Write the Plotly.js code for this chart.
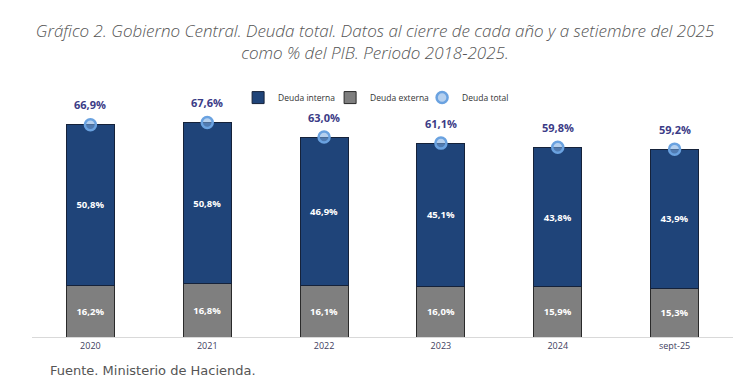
<!DOCTYPE html>
<html>
<head>
<meta charset="utf-8">
<script src="https://cdn.plot.ly/plotly-3.0.1.min.js"></script>
<style>html,body{margin:0;padding:0;background:#fff;}#chart{width:750px;height:392px;}</style>
</head>
<body>
<div id="chart"></div>
<script>
const categories = ["2020", "2021", "2022", "2023", "2024", "sept-25"];
const deudaInterna = [50.8, 50.8, 46.9, 45.1, 43.8, 43.9];
const deudaExterna = [16.2, 16.8, 16.1, 16.0, 15.9, 15.3];
const deudaTotal = [66.9, 67.6, 63.0, 61.1, 59.8, 59.2];

const xs = categories.map((c, i) => i);
const fmt = v => v.toFixed(1).replace('.', ',') + '%';
const numFont = {family: 'Open Sans, Liberation Sans, sans-serif', size: 9.5, color: '#ffffff', weight: 700};

const traces = [
  {
    type: 'bar', name: 'Deuda externa', x: xs, y: deudaExterna, width: 0.41,
    marker: {color: '#7f7f7f', line: {color: '#2a2a2a', width: 1}},
    text: deudaExterna.map(fmt), textposition: 'inside', insidetextanchor: 'middle',
    textfont: numFont, legendrank: 2, hoverinfo: 'skip'
  },
  {
    type: 'bar', name: 'Deuda interna', x: xs, y: deudaInterna, width: 0.41,
    marker: {color: '#1f4479', line: {color: '#15223a', width: 1}},
    text: deudaInterna.map(fmt), textposition: 'inside', insidetextanchor: 'middle',
    textfont: numFont, legendrank: 1, hoverinfo: 'skip'
  },
  {
    type: 'scatter', mode: 'markers', name: 'Deuda total', x: xs, y: deudaTotal,
    marker: {size: 11, color: 'rgba(120,170,225,0.55)', line: {color: '#6aa2e0', width: 2.5}},
    legendrank: 3, hoverinfo: 'skip'
  }
];

const annotations = deudaTotal.map((v, i) => ({
  x: xs[i], y: v, xref: 'x', yref: 'y', text: fmt(v), showarrow: false,
  yshift: 20, font: {family: 'Open Sans, Liberation Sans, sans-serif', size: 11, color: '#3b3b86', weight: 700}
}));
annotations.push({
  xref: 'paper', yref: 'paper', x: 0, y: 0, xanchor: 'left', yanchor: 'top',
  xshift: 16, yshift: -24, showarrow: false,
  text: 'Fuente. Ministerio de Hacienda.',
  font: {family: 'DejaVu Sans, sans-serif', size: 13, color: '#555555'}
});

const layout = {
  width: 750, height: 392,
  margin: {l: 32, r: 17, t: 99, b: 55},
  paper_bgcolor: '#ffffff', plot_bgcolor: '#ffffff',
  barmode: 'stack',
  showlegend: true,
  legend: {orientation: 'h', x: 0.294, xanchor: 'left', y: 0.945, yanchor: 'bottom',
    font: {family: 'Open Sans, Liberation Sans, sans-serif', size: 8.5, color: '#333333'},
    itemwidth: 30, entrywidth: 47, entrywidthmode: 'pixels', traceorder: 'normal'},
  title: {
    text: 'Gráfico 2. Gobierno Central. Deuda total. Datos al cierre de cada año y a setiembre del 2025<br>como % del PIB. Periodo 2018-2025.',
    x: 0.5, xanchor: 'center', y: 0.905, yanchor: 'top',
    font: {family: 'Open Sans, Noto Sans, sans-serif', size: 17, color: '#555555', style: 'italic', weight: 300}
  },
  xaxis: {
    range: [-0.5, 5.5], tickmode: 'array', tickvals: xs, ticktext: categories,
    showline: true, linecolor: '#d9d9d9', linewidth: 1,
    ticks: '', showgrid: false, zeroline: false,
    tickfont: {family: 'Open Sans, Liberation Sans, sans-serif', size: 9, color: '#404060'}
  },
  yaxis: {range: [0, 75], visible: false, showgrid: false, zeroline: false},
  annotations: annotations
};

Plotly.newPlot('chart', traces, layout, {displayModeBar: false, staticPlot: true});
</script>
</body>
</html>
